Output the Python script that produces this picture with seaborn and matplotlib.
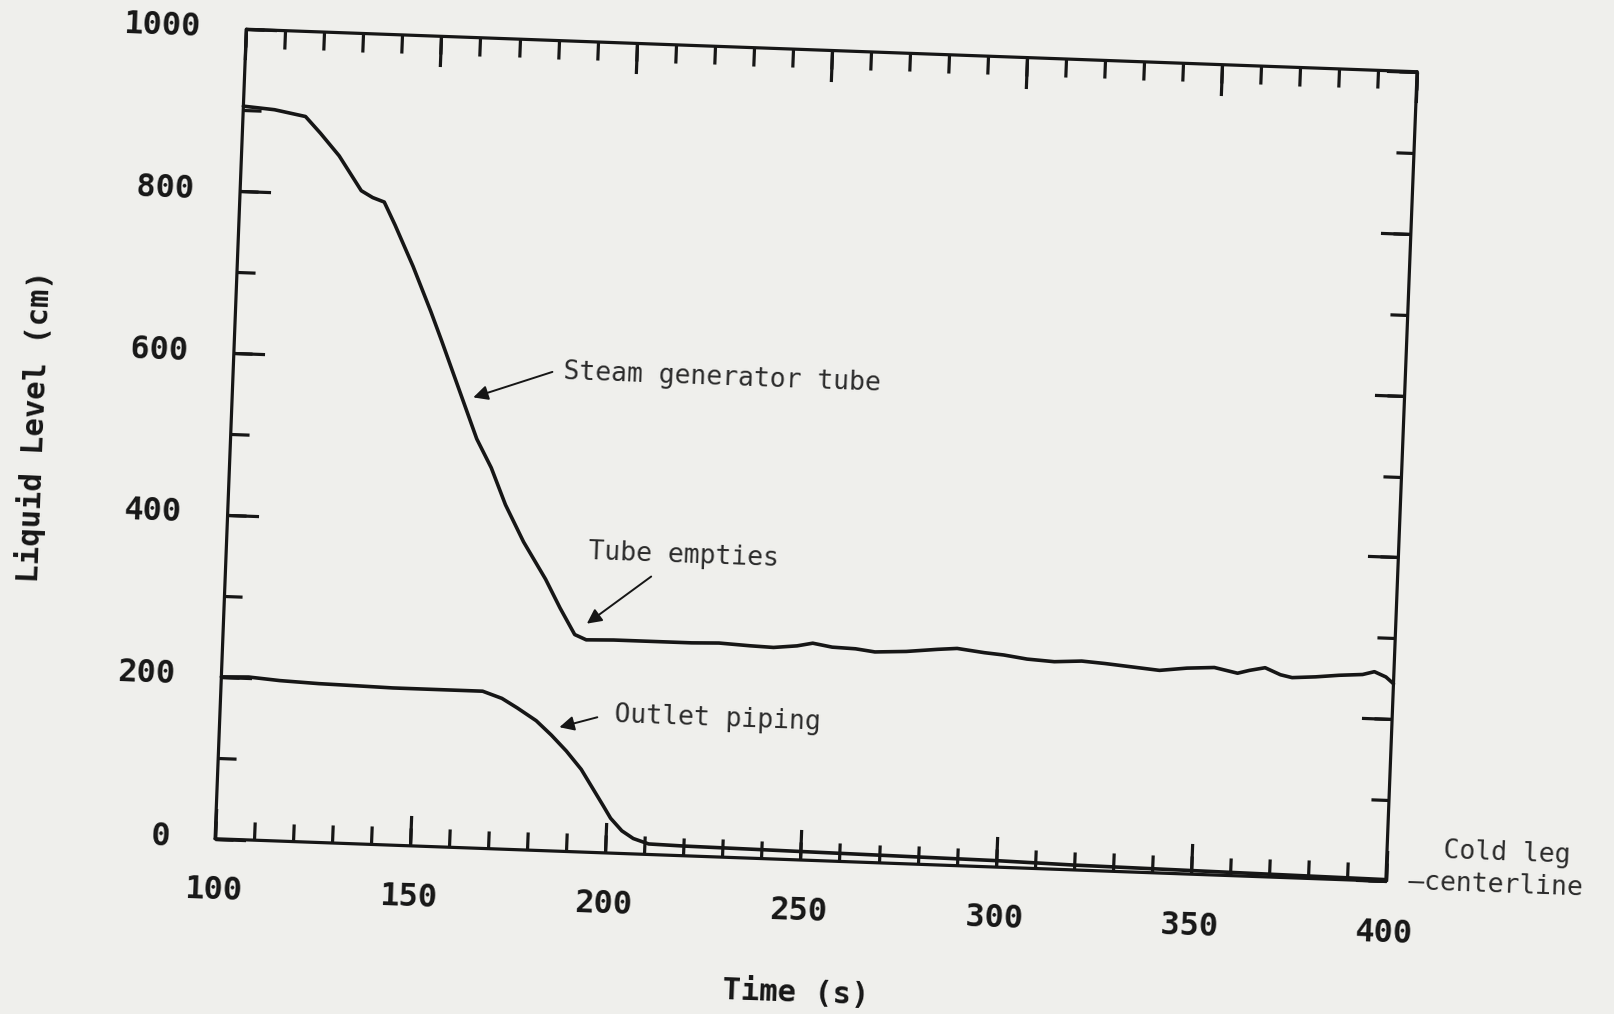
import matplotlib
matplotlib.use("Agg")
import matplotlib.pyplot as plt
from matplotlib.transforms import Affine2D
import mpl_toolkits.axisartist.floating_axes as floating_axes
from mpl_toolkits.axisartist.grid_finder import FixedLocator, DictFormatter
import numpy as np
import pandas as pd
import seaborn as sns

# Liquid level in the steam generator tube (time in s, level in cm)
time_sg = [100, 108, 116, 120, 125, 131, 134, 137, 140, 145, 150, 153, 158,
           163, 167, 171, 176, 182, 186, 190, 193, 200, 210, 220, 227, 235,
           241, 247, 251, 256, 262, 267, 275, 283, 288, 295, 300, 306, 313,
           320, 326, 333, 340, 347, 354, 360, 363, 367, 371, 374, 380, 386,
           392, 395, 398, 400]
level_sg = [905, 902, 895, 875, 848, 806, 798, 793, 765, 715, 660, 625, 565,
            505, 470, 425, 380, 335, 300, 268, 262, 263, 263, 263, 264, 262,
            261, 264, 268, 264, 263, 260, 262, 266, 268, 264, 262, 258, 256,
            258, 256, 253, 250, 254, 256, 250, 254, 258, 250, 247, 249, 252,
            254, 258, 252, 244]

# Liquid level in the outlet piping
time_outlet = [100, 107, 115, 125, 135, 144, 155, 167, 172, 176, 181, 185,
               189, 193, 196, 199, 201, 204, 207, 211, 220, 240, 260, 280,
               300, 320, 340, 360, 380, 400]
level_outlet = [200, 201, 198, 196, 195, 194, 194, 194, 186, 175, 160, 143,
                124, 102, 80, 58, 43, 28, 19, 13, 12, 11, 10, 9,
                8, 6, 5, 4, 3, 2]

x_limits = (100, 400)
y_limits = (0, 1000)
x_major = [100, 150, 200, 250, 300, 350, 400]
y_major = [0, 200, 400, 600, 800, 1000]
x_minor = list(range(100, 401, 10))
y_minor = list(range(0, 1001, 100))

series_names = ["Steam generator tube", "Outlet piping"]

df = pd.concat([
    pd.DataFrame({"time": time_sg, "level": level_sg, "series": series_names[0]}),
    pd.DataFrame({"time": time_outlet, "level": level_outlet, "series": series_names[1]}),
], ignore_index=True)

sns.set_theme(style="ticks")
paper = "#efefec"
ink = "#161616"
mono = ["DejaVu Sans Mono"]

W, H = 1615, 1014
fig = plt.figure(figsize=(W / 100, H / 100), dpi=100, facecolor=paper)

# The plotting frame sits slightly skewed on the page: pixel positions of its
# lower-left, lower-right and upper-left corners (origin at the bottom).
frame_ll = np.array([215.1, 175.25])
frame_lr = np.array([1385.85, 132.75])
frame_ul = np.array([246.35, 984.75])
ex = (frame_lr - frame_ll) / (x_limits[1] - x_limits[0])
ey = (frame_ul - frame_ll) / (y_limits[1] - y_limits[0])
offset = frame_ll - ex * x_limits[0] - ey * y_limits[0]
page = Affine2D(np.array([[ex[0], ey[0], offset[0]],
                          [ex[1], ey[1], offset[1]],
                          [0.0, 0.0, 1.0]]))


def make_frame(x_locs, y_locs, x_labels, y_labels):
    helper = floating_axes.GridHelperCurveLinear(
        page,
        extremes=(x_limits[0], x_limits[1], y_limits[0], y_limits[1]),
        grid_locator1=FixedLocator(x_locs),
        grid_locator2=FixedLocator(y_locs),
        tick_formatter1=DictFormatter(x_labels),
        tick_formatter2=DictFormatter(y_labels),
    )
    frame = fig.add_axes([0, 0, 1, 1], axes_class=floating_axes.FloatingAxes,
                         grid_helper=helper)
    frame.set_xlim(0, W)
    frame.set_ylim(0, H)
    return frame


ax = make_frame(x_major, y_major,
                {v: str(v) for v in x_major}, {v: str(v) for v in y_major})
ax.patch.set_facecolor(paper)

for side in ["left", "right", "bottom", "top"]:
    art = ax.axis[side]
    art.line.set_linewidth(2.3)
    art.line.set_color(ink)
    art.major_ticks.set_tick_out(False)
    art.major_ticks.set_ticksize(22)
    art.major_ticks.set_markeredgewidth(2.3)
    art.major_ticks.set_color(ink)
    art.major_ticklabels.set_fontsize(23)
    art.major_ticklabels.set_fontweight("bold")
    art.major_ticklabels.set_family(mono)
    art.major_ticklabels.set_color(ink)

ax.axis["top"].major_ticklabels.set_visible(False)
ax.axis["right"].major_ticklabels.set_visible(False)
ax.axis["bottom"].major_ticklabels.set_pad(27)
ax.axis["left"].major_ticklabels.set_pad(33)

for side, text, pad in [("bottom", "Time (s)", 42), ("left", "Liquid Level (cm)", 42)]:
    lab = ax.axis[side].label
    lab.set_text(text)
    lab.set_visible(True)
    lab.set_fontsize(22)
    lab.set_fontweight("bold")
    lab.set_family(mono)
    lab.set_color(ink)
    lab.set_pad(pad)

# Short intermediate ticks on a transparent overlay frame
ax_minor = make_frame(x_minor, y_minor, {}, {})
ax_minor.patch.set_visible(False)
for side in ["left", "right", "bottom", "top"]:
    art = ax_minor.axis[side]
    art.line.set_visible(False)
    art.major_ticks.set_tick_out(False)
    art.major_ticks.set_ticksize(13)
    art.major_ticks.set_markeredgewidth(2.3)
    art.major_ticks.set_color(ink)
    art.major_ticklabels.set_visible(False)
    art.label.set_visible(False)

# Data axes living in the skewed frame
aux = ax.get_aux_axes(page)
sns.lineplot(data=df, x="time", y="level", hue="series",
             palette={name: ink for name in series_names},
             estimator=None, sort=False, linewidth=2.6, legend=False, ax=aux)

tilt = -2.1
note_style = dict(family=mono, fontsize=19, color="#2a2a2a", va="center",
                  ha="left", rotation=tilt, rotation_mode="anchor")
arrow_style = dict(arrowstyle="-|>", color=ink, lw=1.4, mutation_scale=22,
                   shrinkA=0, shrinkB=0)

aux.text(184.6, 592, "Steam generator tube", **note_style)
aux.annotate("", xy=(161.7, 556), xytext=(181.7, 591), arrowprops=arrow_style)

aux.text(192.8, 370, "Tube empties", **note_style)
aux.annotate("", xy=(193, 282), xytext=(209, 343), arrowprops=arrow_style)

aux.text(201, 170, "Outlet piping", **note_style)
aux.annotate("", xy=(187, 153), xytext=(196.6, 167), arrowprops=arrow_style)

aux.text(414.5, 40, "Cold leg", clip_on=False, **note_style)
aux.text(405.8, 0, "\u2014centerline", clip_on=False, **note_style)

fig.savefig("out.png", dpi=100, facecolor=paper)
